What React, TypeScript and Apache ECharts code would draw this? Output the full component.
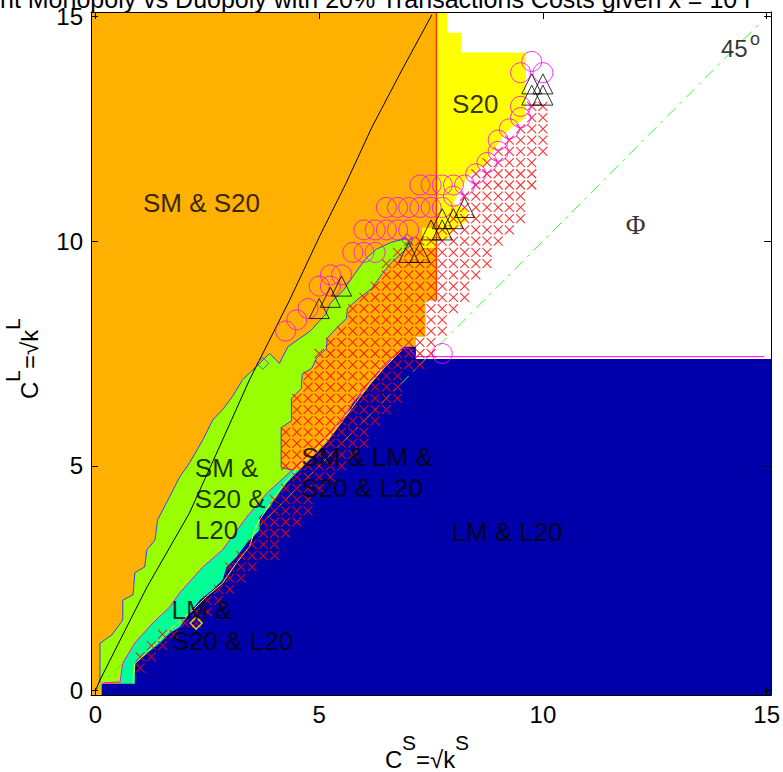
import React, { useEffect, useRef } from "react";
import * as echarts from "echarts";

const X_MIN = -0.1;
const X_MAX = 15.1;
const xTickValues = [0, 5, 10, 15];
const yTickValues = [0, 5, 10, 15];

const titleText = "nt Monopoly vs Duopoly with 20% Transactions Costs given x = 10 r";

const orangeRegion = [[-0.1, -0.1], [7.16, -0.1], [7.16, 7.87], [7.38, 7.87], [7.38, 8.68], [7.62, 8.68], [7.62, 15.1], [-0.1, 15.1]];

const yellowRegion = [[7.62, 15.1], [7.86, 15.1], [7.86, 14.64], [8.17, 14.64], [8.17, 14.2], [9.62, 14.2], [9.62, 12.74], [9.35, 12.58], [9.13, 12.36], [8.9, 12.02], [8.68, 11.69], [8.35, 11.47], [8.12, 11.1], [8.0, 10.85], [8.3, 10.7], [8.3, 10.45], [8.05, 10.3], [7.85, 10.05], [7.62, 10.05], [7.62, 9.85], [7.3, 9.85], [7.3, 10.3], [7.62, 10.3]];

const greenUpper = [[0.1, 0.17], [0.1, 1.05], [0.37, 1.24], [0.61, 1.57], [0.61, 2.01], [0.84, 2.13], [0.88, 2.62], [1.1, 2.75], [1.15, 3.13], [1.33, 3.35], [1.39, 3.8], [1.62, 4.24], [1.88, 4.75], [2.1, 5.06], [2.4, 5.58], [2.62, 6.02], [2.84, 6.25], [3.06, 6.54], [3.29, 6.92], [3.44, 7.06], [3.89, 7.5], [4.11, 7.28], [4.3, 7.65], [4.8, 8.0], [5.15, 8.38], [5.25, 8.62], [5.55, 8.92], [5.8, 9.28], [6.05, 9.62], [6.28, 9.82], [6.6, 9.97], [6.94, 10.06], [7.08, 9.95]];
const greenRight = [[6.63, 9.54], [6.41, 9.28], [6.18, 8.95], [5.89, 8.73], [5.63, 8.5], [5.61, 8.28], [5.38, 8.06], [5.18, 7.84], [5.16, 7.61], [4.94, 7.39], [4.83, 7.17], [4.62, 7.04], [4.6, 6.72], [4.38, 6.5], [4.38, 6.0], [4.15, 5.85], [4.15, 4.96], [4.4, 4.91]];
const greenLower = [[4.4, 4.91], [3.84, 4.4], [3.38, 3.86], [2.84, 3.13], [2.4, 2.75], [1.88, 2.17], [1.66, 1.86], [1.28, 1.5], [0.88, 1.06], [0.61, 0.61], [0.55, 0.19], [0.14, 0.17]];

const tealRegion = [[0.55, 0.15], [0.55, 0.19], [0.61, 0.61], [0.88, 1.06], [1.28, 1.5], [1.66, 1.86], [1.88, 2.17], [2.4, 2.75], [2.84, 3.13], [3.38, 3.86], [3.84, 4.4], [4.4, 4.91], [4.7, 4.91], [4.7, 0.15]];

const blueRegion = [[0.14, -0.1], [0.14, 0.15], [0.88, 0.15], [0.88, 0.61], [1.15, 0.83], [1.44, 1.06], [1.66, 1.28], [1.88, 1.41], [2.1, 1.72], [2.33, 2.01], [2.62, 2.24], [2.84, 2.46], [2.93, 2.75], [3.15, 2.97], [3.38, 3.28], [3.67, 3.57], [3.67, 3.86], [3.89, 4.08], [4.11, 4.4], [4.27, 4.62], [4.56, 4.91], [4.85, 5.2], [5.16, 5.51], [5.38, 5.8], [5.6, 6.1], [5.74, 6.4], [6.05, 6.69], [6.18, 6.87], [6.41, 7.13], [6.63, 7.36], [6.9, 7.65], [7.16, 7.65], [7.16, 7.38], [15.1, 7.38], [15.1, -0.1]];

const magentaLine = [[0.14, 0.17], [0.55, 0.19], [0.61, 0.61], [0.88, 1.06], [1.28, 1.5], [1.66, 1.86], [1.88, 2.17], [2.4, 2.75], [2.84, 3.13], [3.38, 3.86], [3.84, 4.4], [4.4, 4.91], [4.85, 5.35], [5.2, 5.7], [5.5, 6.05], [5.8, 6.45], [6.1, 6.85], [6.45, 7.25], [6.85, 7.62], [7.0, 7.62], [7.16, 7.43], [14.95, 7.43]];
const yellowLine = [[0.84, 0.16], [0.88, 0.6], [1.14, 0.83], [1.66, 1.35], [2.18, 1.79], [2.48, 2.09], [2.84, 2.39], [3.15, 2.84], [3.44, 3.2], [3.59, 3.65], [3.67, 3.8], [4.11, 4.46], [4.48, 4.91], [4.85, 5.28], [5.2, 5.62], [5.5, 5.98], [5.8, 6.38], [6.1, 6.78], [6.45, 7.18], [6.85, 7.58]];

const blackCurve = [[0, 0], [0.1, 0.23], [0.55, 1.12], [1.15, 2.3], [2.1, 3.95], [2.77, 5.42], [3.44, 6.91], [3.89, 7.8], [4.34, 8.69], [5.0, 10.09], [5.6, 11.29], [6.18, 12.54], [6.85, 13.81], [7.52, 15.04]];
const diagonal45 = [[0, 0], [14.9, 14.9]];
const redVertical = [[7.62, 8.68], [7.62, 15.1]];

// rows of red x marks on the 0.25 grid: [y, first x, last x]
const xMarkRows = [
  [13.0, 9.75, 10.0], [12.75, 9.75, 10.0], [12.5, 9.5, 10.0], [12.25, 9.25, 10.0], [12.0, 9.0, 10.0],
  [11.75, 8.75, 9.75], [11.5, 8.5, 9.75], [11.25, 8.5, 9.75], [11.0, 8.25, 9.5], [10.75, 8.25, 9.5],
  [10.5, 8.0, 9.5], [10.25, 7.75, 9.25], [10.0, 7.0, 9.0], [9.75, 6.75, 8.75], [9.5, 6.5, 8.75],
  [9.25, 6.5, 8.5], [9.0, 6.25, 8.25], [8.75, 6.0, 8.25], [8.5, 5.75, 8.0], [8.25, 5.75, 7.75],
  [8.0, 5.5, 7.75], [7.75, 5.25, 7.5], [7.5, 5.0, 7.5], [7.25, 5.0, 7.25], [7.0, 4.75, 6.75],
  [6.75, 4.75, 6.75], [6.5, 4.5, 6.75], [6.25, 4.5, 6.5], [6.0, 4.5, 6.25], [5.75, 4.25, 6.0],
  [5.5, 4.25, 6.0], [5.25, 4.25, 5.75], [5.0, 4.25, 5.5], [4.75, 4.5, 5.25], [4.5, 4.25, 5.0],
  [4.25, 4.0, 4.75], [4.0, 4.0, 4.75], [3.75, 3.75, 4.5], [3.5, 3.75, 4.25], [3.25, 3.5, 4.0],
  [3.0, 3.25, 4.0], [2.75, 3.0, 3.5], [2.5, 3.0, 3.25], [2.25, 2.75, 3.0], [2.0, 2.5, 2.75],
  [1.75, 2.25, 2.5], [1.5, 2.0, 2.25], [1.25, 1.5, 1.75], [1.0, 1.25, 1.5], [0.75, 1.0, 1.25], [0.5, 1.0, 1.0]
];

const circlePoints = [[9.75, 14.0], [9.5, 13.75], [10.0, 13.75], [9.5, 13.0], [9.5, 12.75], [9.25, 12.5], [9.0, 12.25], [9.0, 12.0], [8.75, 11.75], [8.5, 11.5], [7.25, 11.25], [7.5, 11.25], [7.75, 11.25], [8.0, 11.25], [8.25, 11.25], [8.0, 11.0], [6.5, 10.75], [6.75, 10.75], [7.0, 10.75], [7.25, 10.75], [7.5, 10.75], [7.75, 10.75], [6.0, 10.25], [6.25, 10.25], [6.5, 10.25], [6.75, 10.25], [7.0, 10.25], [5.75, 9.75], [6.0, 9.75], [6.25, 9.75], [5.25, 9.25], [5.5, 9.25], [5.0, 9.0], [5.25, 9.0], [4.75, 8.5], [4.5, 8.25], [4.25, 8.0], [7.75, 7.5]];

const trianglePoints = [[9.75, 13.5], [10.0, 13.5], [9.75, 13.25], [10.0, 13.25], [8.25, 10.75], [8.0, 10.5], [7.75, 10.5], [7.5, 10.25], [7.75, 10.25], [7.0, 9.75], [7.25, 9.75], [5.5, 9.0], [5.25, 8.75], [5.0, 8.5]];

const blueDiamonds = [[3.74, 7.28], [6.97, 10.03]];
const yellowDiamonds = [[2.25, 1.5]];

const regionLabels = [
  { text: "SM & S20", at: [1.06, 10.86] },
  { text: "S20", at: [7.97, 13.05] },
  { text: "SM &\nS20 &\nL20", at: [2.22, 4.26] },
  { text: "SM & LM &\nS20 & L20", at: [4.6, 4.86] },
  { text: "LM & L20", at: [7.95, 3.53] },
  { text: "LM &\nS20 & L20", at: [1.7, 1.45] }
];

const SANS = "Liberation Sans, Arial, Helvetica, sans-serif";

function buildXMarks() {
  const pts: number[][] = [];
  for (const [y, x0, x1] of xMarkRows) {
    for (let x = x0; x <= x1 + 1e-9; x += 0.25) pts.push([x, y]);
  }
  return pts;
}

const regions = [
  { pts: orangeRegion, color: "#FFB000" },
  { pts: yellowRegion, color: "#FFFF00" },
  { pts: [...greenUpper, ...greenRight, ...greenLower], color: "#99FF00" },
  { pts: tealRegion, color: "#00FF99" },
  { pts: blueRegion, color: "#0000AA" }
];

function lineSeries(data: number[][], color: string, width: number, type: any = "solid", z = 3) {
  return {
    type: "line",
    data,
    symbol: "none",
    silent: true,
    clip: true,
    z,
    lineStyle: { color, width, type },
    animation: false
  };
}

function txt(x: number, y: number, text: string, size: number) {
  return { type: "text", x, y, style: { text, fontSize: size, lineHeight: 20, fontFamily: SANS, fill: "#000", verticalAlign: "middle" } };
}

function buildOption() {
  const axisCommon = {
    type: "value",
    min: X_MIN,
    max: X_MAX,
    z: 10,
    splitLine: { show: false },
    axisLine: { show: true, onZero: false, lineStyle: { color: "#000", width: 1 } }
  };
  return {
    animation: false,
    backgroundColor: "#fff",
    grid: { left: 91, right: 10, top: 12, bottom: 77, containLabel: false },
    xAxis: [
      {
        ...axisCommon,
        position: "bottom",
        axisTick: { show: true, inside: true, length: 7, customValues: xTickValues, lineStyle: { color: "#000" } },
        axisLabel: { show: true, customValues: xTickValues, fontSize: 24, color: "#000", fontFamily: SANS, margin: 7 }
      },
      {
        ...axisCommon,
        position: "top",
        axisTick: { show: true, inside: true, length: 7, customValues: xTickValues, lineStyle: { color: "#000" } },
        axisLabel: { show: false }
      }
    ],
    yAxis: [
      {
        ...axisCommon,
        position: "left",
        axisTick: { show: true, inside: true, length: 7, customValues: yTickValues, lineStyle: { color: "#000" } },
        axisLabel: { show: true, customValues: yTickValues, fontSize: 24, color: "#000", fontFamily: SANS, margin: 8 }
      },
      {
        ...axisCommon,
        position: "right",
        axisTick: { show: true, inside: true, length: 7, customValues: yTickValues, lineStyle: { color: "#000" } },
        axisLabel: { show: false }
      }
    ],
    series: [
      {
        type: "custom",
        clip: true,
        silent: true,
        z: 1,
        data: regions.map((_, i) => [i]),
        renderItem: (_params: any, api: any) => {
          const r = regions[api.value(0)];
          return {
            type: "polygon",
            shape: { points: r.pts.map((p) => api.coord(p)) },
            style: { fill: r.color, stroke: null }
          };
        }
      },
      lineSeries(redVertical, "#FF3300", 1.5),
      lineSeries([...greenUpper, ...greenRight], "#3344EE", 1),
      lineSeries(yellowLine, "#FFFF00", 1),
      lineSeries(magentaLine, "#FF00FF", 1),
      lineSeries(diagonal45, "#33FF33", 1, [12, 6, 3, 6]),
      lineSeries(blackCurve, "#000000", 1),
      {
        type: "scatter",
        data: buildXMarks(),
        symbol: "path://M0 0L10 10M10 0L0 10",
        symbolSize: 9,
        silent: true,
        z: 4,
        itemStyle: { color: "rgba(0,0,0,0)", borderColor: "#FF0000", borderWidth: 1.1 }
      },
      {
        type: "scatter",
        data: circlePoints,
        symbol: "circle",
        symbolSize: 20,
        silent: true,
        z: 5,
        itemStyle: { color: "rgba(0,0,0,0)", borderColor: "#FF00FF", borderWidth: 1 }
      },
      {
        type: "scatter",
        data: trianglePoints,
        symbol: "triangle",
        symbolSize: 20,
        silent: true,
        z: 6,
        itemStyle: { color: "rgba(0,0,0,0)", borderColor: "#000000", borderWidth: 1 }
      },
      {
        type: "scatter",
        data: blueDiamonds,
        symbol: "diamond",
        symbolSize: 12,
        silent: true,
        z: 5,
        itemStyle: { color: "rgba(0,0,0,0)", borderColor: "#3344EE", borderWidth: 1 }
      },
      {
        type: "scatter",
        data: yellowDiamonds,
        symbol: "diamond",
        symbolSize: 12,
        silent: true,
        z: 5,
        itemStyle: { color: "rgba(0,0,0,0)", borderColor: "#FFFF00", borderWidth: 1.5 }
      },
      {
        type: "scatter",
        symbolSize: 1,
        silent: true,
        z: 8,
        itemStyle: { color: "rgba(0,0,0,0)" },
        data: [
          ...regionLabels.map((l) => ({
            value: l.at,
            label: { show: true, formatter: l.text, position: "inside", align: "left", verticalAlign: "middle", fontSize: 26, lineHeight: 31, color: "#000", fontFamily: SANS }
          })),
          {
            value: [12.07, 10.36],
            label: { show: true, formatter: "Φ", position: "inside", align: "center", verticalAlign: "middle", fontSize: 27, color: "#000", fontFamily: "Liberation Serif, Times New Roman, serif" }
          },
          {
            value: [13.98, 14.29],
            label: { show: true, formatter: "45", position: "inside", align: "left", verticalAlign: "middle", fontSize: 24, color: "#000", fontFamily: SANS }
          },
          {
            value: [14.63, 14.5],
            label: { show: true, formatter: "o", position: "inside", align: "left", verticalAlign: "middle", fontSize: 18, color: "#000", fontFamily: SANS }
          }
        ]
      }
    ],
    graphic: [
      { type: "text", x: 0, y: 11, style: { text: titleText, fontSize: 25, fontFamily: SANS, fill: "#000", verticalAlign: "bottom", align: "left" } },
      txt(385, 759.5, "C", 24),
      txt(402, 742.5, "S", 21),
      txt(416, 759.5, "=√k", 24),
      txt(455, 742.5, "S", 21),
      {
        type: "group",
        x: 38,
        y: 399,
        rotation: Math.PI / 2,
        children: [
          txt(0, -8.5, "C", 24),
          txt(17, -25.5, "L", 21),
          txt(30, -8.5, "=√k", 24),
          txt(69, -25.5, "L", 21)
        ]
      }
    ]
  };
}

export default function App() {
  const ref = useRef<HTMLDivElement>(null);
  useEffect(() => {
    document.body.style.margin = "0";
    if (!ref.current) return;
    const chart = echarts.init(ref.current, null, { renderer: "svg" });
    chart.setOption(buildOption() as any);
    return () => chart.dispose();
  }, []);
  return <div ref={ref} style={{ width: 783, height: 772 }} />;
}
